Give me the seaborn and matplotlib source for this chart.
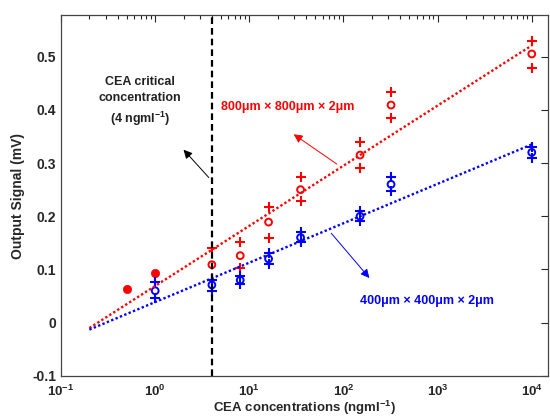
import numpy as np
import pandas as pd
import matplotlib
matplotlib.use("Agg")
import matplotlib.pyplot as plt
import seaborn as sns

# readings taken from the chart (CEA concentration in ng/ml, output in mV)
red_conc = [4, 8, 16, 35, 150, 320, 10000]
red_mean = [0.109, 0.126, 0.189, 0.250, 0.315, 0.409, 0.505]
red_hi = [0.140, 0.151, 0.218, 0.274, 0.340, 0.434, 0.530]
red_lo = [0.080, 0.102, 0.160, 0.229, 0.290, 0.385, 0.479]

red_low_conc = [0.5, 1]
red_low_val = [0.063, 0.093]

blue_conc = [1, 4, 8, 16, 35, 150, 320, 10000]
blue_mean = [0.060, 0.071, 0.080, 0.120, 0.160, 0.200, 0.260, 0.320]
blue_hi = [0.076, 0.080, 0.087, 0.131, 0.170, 0.210, 0.273, 0.331]
blue_lo = [0.046, 0.060, 0.073, 0.110, 0.151, 0.191, 0.247, 0.310]

fit_conc = [0.2, 10000]
red_fit = [-0.010, 0.521]
blue_fit = [-0.013, 0.335]

critical_conc = 4

sns.set_style("white")
plt.rcParams["font.family"] = ["Liberation Sans", "DejaVu Sans"]
plt.rcParams["mathtext.fontset"] = "custom"
plt.rcParams["mathtext.rm"] = "Liberation Sans:bold"
plt.rcParams["mathtext.bf"] = "Liberation Sans:bold"
plt.rcParams["mathtext.it"] = "Liberation Sans:bold"

red = "#ff0000"
blue = "#0000ff"

fig = plt.figure(figsize=(5.5, 4.2), dpi=100)
ax = fig.add_axes([0.111, 0.105, 0.886, 0.859])

# fit lines
sns.lineplot(x=fit_conc, y=red_fit, ax=ax, color=red, linestyle=(0, (1, 1)), linewidth=1.7)
sns.lineplot(x=fit_conc, y=blue_fit, ax=ax, color=blue, linestyle=(0, (1, 1)), linewidth=1.7)

# critical concentration marker
ax.axvline(critical_conc, color="black", linewidth=1.6, linestyle=(0, (3, 1.8)))

# red points
sns.scatterplot(x=red_conc, y=red_lo, ax=ax, marker="+", color=red, s=45, linewidth=1.5)
sns.scatterplot(x=red_conc, y=red_hi, ax=ax, marker="+", color=red, s=45, linewidth=1.5)
sns.scatterplot(x=red_conc, y=red_mean, ax=ax, marker="o", s=24,
                facecolor="none", edgecolor=red, linewidth=1.4)
sns.scatterplot(x=red_low_conc, y=red_low_val, ax=ax, marker="o", s=36,
                color=red, edgecolor=red)

# blue points
sns.scatterplot(x=blue_conc, y=blue_hi, ax=ax, marker="+", color=blue, s=45, linewidth=1.5)
sns.scatterplot(x=blue_conc, y=blue_lo, ax=ax, marker="+", color=blue, s=45, linewidth=1.5)
sns.scatterplot(x=blue_conc, y=blue_mean, ax=ax, marker="o", s=24,
                facecolor="none", edgecolor=blue, linewidth=1.4)

ax.set_xscale("log")
ax.set_xlim(0.1, 15000)
ax.set_ylim(-0.1, 0.578)
ax.set_yticks([-0.1, 0, 0.1, 0.2, 0.3, 0.4, 0.5])
ax.set_yticklabels(["-0.1", "0", "0.1", "0.2", "0.3", "0.4", "0.5"])

ax.tick_params(which="both", direction="in", top=True, right=True, labelsize=10)
ax.tick_params(which="major", length=5, width=0.8)
ax.tick_params(which="minor", length=3, width=0.8)
ax.tick_params(axis="x", which="both", pad=5.5, labelsize=9.5)
for lab in ax.get_yticklabels() + ax.get_xticklabels():
    lab.set_fontweight("bold")
for sp in ax.spines.values():
    sp.set_linewidth(0.9)
    sp.set_color("#444444")

ax.set_xlabel("CEA concentrations (ngml$^{-1}$)", fontsize=9.5, fontweight="bold", labelpad=0)
ax.set_ylabel("Output Signal (mV)", fontsize=10, fontweight="bold", labelpad=5)

# annotations
ax.text(0.69, 0.415, "CEA critical\nconcentration\n(4 ngml$^{-1}$)", ha="center", va="center",
        fontsize=9, fontweight="bold", color="#222222", linespacing=1.45)
ax.annotate("", xy=(1.91, 0.329), xytext=(3.88, 0.269),
            arrowprops=dict(arrowstyle="-|>", color="black", lw=0.7, mutation_scale=13))

ax.text(25.4, 0.406, "800\u03bcm \u00d7 800\u03bcm \u00d7 2\u03bcm", ha="center", va="center",
        fontsize=9, fontweight="bold", color=red)
ax.annotate("", xy=(28, 0.357), xytext=(90, 0.295),
            arrowprops=dict(arrowstyle="-|>", color=red, lw=0.7, mutation_scale=13))

ax.text(773, 0.041, "400\u03bcm \u00d7 400\u03bcm \u00d7 2\u03bcm", ha="center", va="center",
        fontsize=9, fontweight="bold", color=blue)
ax.annotate("", xy=(197, 0.08), xytext=(71, 0.172),
            arrowprops=dict(arrowstyle="-|>", color=blue, lw=0.7, mutation_scale=13))

fig.savefig("out.png", dpi=100)
